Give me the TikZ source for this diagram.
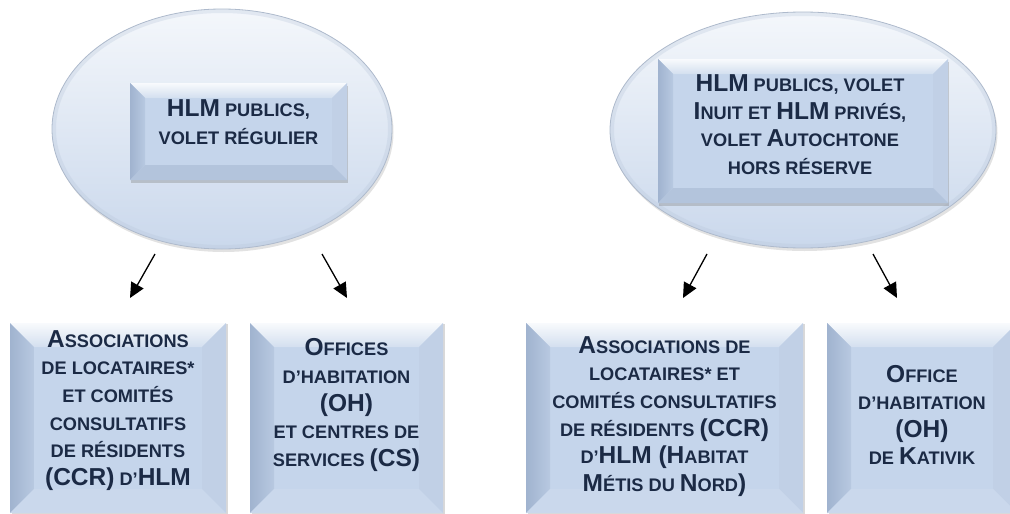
\documentclass[tikz,border=0pt]{standalone}
\usepackage{fontspec}
\setmainfont{Liberation Sans}
\usetikzlibrary{arrows.meta,shadows,shapes.geometric,calc}
\definecolor{txtc}{HTML}{1B2A45}
\definecolor{fillc}{HTML}{C5D5EB}
\definecolor{bevL}{HTML}{A0B3CF}
\definecolor{bevLb}{HTML}{B8C9E1}
\definecolor{bevT}{HTML}{D3DFEF}
\definecolor{bevR}{HTML}{C1D0E6}
\definecolor{bevB}{HTML}{B3C4DC}
\definecolor{bevBl}{HTML}{CAD8EC}
\definecolor{ellc}{HTML}{CAD8EC}
\definecolor{ellhi}{HTML}{F4F7FB}
\definecolor{rimc}{HTML}{AEBACC}
\definecolor{rimband}{HTML}{B8C6DA}
\newcommand\Bg[1]{{\fontsize{24.5}{27.6}\selectfont #1}}
\tikzset{
  ell/.style n args={2}{ellipse, minimum width=#1, minimum height=#2, inner sep=0pt,
    draw=rimc, line width=0.8pt,
    top color=ellhi, middle color=ellc, bottom color=ellc,
    drop shadow={shadow xshift=1.5pt, shadow yshift=-3pt, opacity=0.25, fill=black!45},
    path picture={
      \draw[line width=8pt, draw=rimband, opacity=0.3] (path picture bounding box.center)
        ellipse [x radius=#1/2, y radius=#2/2];
    }},
  bev/.style n args={2}{rectangle, inner sep=0pt, fill=fillc,
    path picture={
      \coordinate (pNW) at (path picture bounding box.north west);
      \coordinate (pNE) at (path picture bounding box.north east);
      \coordinate (pSW) at (path picture bounding box.south west);
      \coordinate (pSE) at (path picture bounding box.south east);
      \shade[top color=white!85!bevT, bottom color=bevT] (pNW) -- (pNE) -- ([shift={(-#1pt,-#1pt)}]pNE) -- ([shift={(#1pt,-#1pt)}]pNW) -- cycle;
      \shade[left color=bevL, right color=bevLb] (pNW) -- ([shift={(#1pt,-#1pt)}]pNW) -- ([shift={(#1pt,#1pt)}]pSW) -- (pSW) -- cycle;
      \fill[bevR] (pNE) -- (pSE) -- ([shift={(-#1pt,#1pt)}]pSE) -- ([shift={(-#1pt,-#1pt)}]pNE) -- cycle;
      \fill[#2] (pSW) -- (pSE) -- ([shift={(-#1pt,#1pt)}]pSE) -- ([shift={(#1pt,#1pt)}]pSW) -- cycle;
    }},
  topbox/.style={bev={15}{bevB}, drop shadow={shadow xshift=1pt, shadow yshift=-3pt, opacity=0.35, fill=black!50}},
  lowbox/.style={bev={24}{bevBl}, drop shadow={shadow xshift=1.5pt, shadow yshift=-1pt, opacity=0.3, fill=black!50}},
  txt/.style={text=txtc, font=\fontsize{18.2}{27.6}\selectfont\bfseries, align=center, inner sep=0pt},
  arr/.style={line width=1.3pt, -{Triangle[length=15pt,width=14pt]}},
}
\begin{document}
\begin{tikzpicture}[x=1pt,y=1pt]
\path[use as bounding box] (0,0) rectangle (1010,-514);
\clip (0,0) rectangle (1010,-514);

% ellipses
\node[ell={340pt}{240pt}] (E1) at (222,-129) {};
\node[ell={386pt}{236pt}] (E2) at (803,-130) {};

% inner boxes
\node[topbox, minimum width=217pt, minimum height=97pt] (U1) at (238.5,-131.5) {};
\node[topbox, minimum width=290pt, minimum height=144pt] (U2) at (803,-131) {};
\node[txt] (T1) at (238.5,-122) {\Bg{HLM} PUBLICS,\\ VOLET RÉGULIER};
\node[txt] (T2) at (800,-124.5) {\Bg{HLM} PUBLICS, VOLET\\ \Bg{I}NUIT ET \Bg{HLM} PRIVÉS,\\ VOLET \Bg{A}UTOCHTONE\\ HORS RÉSERVE};

% lower boxes
\node[lowbox, minimum width=216pt, minimum height=190pt] (L1) at (118,-418) {};
\node[lowbox, minimum width=193pt, minimum height=190pt] (L2) at (346.5,-418) {};
\node[lowbox, minimum width=277pt, minimum height=190pt] (L3) at (664.5,-418) {};
\node[lowbox, minimum width=190pt, minimum height=190pt] (L4) at (922,-418) {};
\node[txt] (B1) at (118,-410.5) {\Bg{A}SSOCIATIONS\\ DE LOCATAIRES*\\ ET COMITÉS\\ CONSULTATIFS\\ DE RÉSIDENTS\\ \Bg{(CCR)} D’\Bg{HLM}};
\node[txt] (B2) at (346.5,-405) {\Bg{O}FFICES\\ D’HABITATION\\ \Bg{(OH)}\\ ET CENTRES DE\\ SERVICES \Bg{(CS)}};
\node[txt] (B3) at (664.5,-416.5) {\Bg{A}SSOCIATIONS DE\\ LOCATAIRES* ET\\ COMITÉS CONSULTATIFS\\ DE RÉSIDENTS \Bg{(CCR)}\\ D’\Bg{HLM (H}ABITAT\\ \Bg{M}ÉTIS DU \Bg{N}ORD\Bg{)}};
\node[txt] (B4) at (922,-415) {\Bg{O}FFICE\\ D’HABITATION\\ \Bg{(OH)}\\ DE \Bg{K}ATIVIK};

% arrows
\coordinate (a1s) at (155,-254); \coordinate (a1e) at (130,-298);
\coordinate (a2s) at (322,-254); \coordinate (a2e) at (347,-298);
\coordinate (a3s) at (707,-254); \coordinate (a3e) at (683,-298);
\coordinate (a4s) at (873,-254); \coordinate (a4e) at (897,-298);
\draw[arr] (a1s) -- (a1e);
\draw[arr] (a2s) -- (a2e);
\draw[arr] (a3s) -- (a3e);
\draw[arr] (a4s) -- (a4e);
\end{tikzpicture}
\end{document}
